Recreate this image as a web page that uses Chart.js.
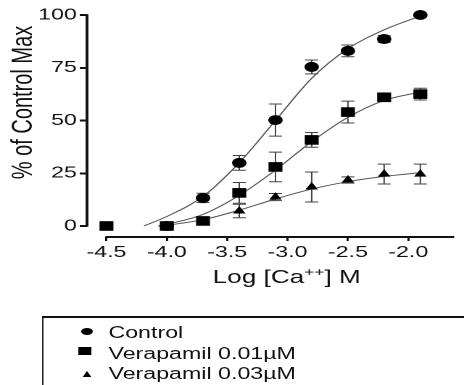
<!DOCTYPE html>
<html><head><meta charset="utf-8">
<script src="https://cdn.jsdelivr.net/npm/chart.js@4"></script>
<style>
html,body{margin:0;padding:0;background:#fff;overflow:hidden;width:464px;height:385px;}
#wrap{position:absolute;left:0;top:0;width:320px;height:385px;transform:scaleX(1.45);transform-origin:0 0;overflow:hidden;}
#box{position:absolute;left:0;top:0;width:320px;height:385px;}
#legend{position:absolute;left:29px;top:316px;width:400px;height:120px;border-top:2px solid #111;border-left:1.6px solid #111;}
.txt{position:absolute;left:44.8px;font:16px "Liberation Sans",Arial,sans-serif;line-height:16px;color:#111;white-space:nowrap;}
.mk{position:absolute;background:#000;}
</style></head><body>
<div id="wrap"><div id="box"><canvas id="c"></canvas></div><div id="legend"></div></div>
<script>
// ---- data ----
const xTicks = [-4.5, -4.0, -3.5, -3.0, -2.5, -2.0];
const yTicks = [0, 25, 50, 75, 100];
const seriesLabels = ['Control', 'Verapamil 0.01\u00b5M', 'Verapamil 0.03\u00b5M'];

const controlX   = [-4.0, -3.7, -3.4, -3.1, -2.8, -2.5, -2.2, -1.9];
const controlY   = [0, 13.3, 29.9, 50.2, 75.4, 83.0, 88.6, 100];
const controlErr = [0, 2.2, 3.5, 7.6, 3.3, 2.8, 1.6, 0.6];

const vera01X   = [-4.5, -4.0, -3.7, -3.4, -3.1, -2.8, -2.5, -2.2, -1.9];
const vera01Y   = [0, 0, 2.4, 15.7, 28.0, 40.8, 54.0, 61.0, 62.5];
const vera01Err = [0, 0, 1.8, 4.9, 7.0, 3.5, 5.2, 1.0, 2.8];

const vera03X   = [-4.0, -3.7, -3.4, -3.1, -2.8, -2.5, -2.2, -1.9];
const vera03Y   = [0, 1.5, 7.1, 13.7, 18.5, 21.8, 24.6, 24.6];
const vera03Err = [0, 1.0, 3.2, 1.7, 7.1, 1.5, 4.7, 4.7];

// fitted curves
const controlFitX = [-4.19, -4.0, -3.7, -3.4, -3.1, -2.8, -2.5, -2.2, -1.9];
const controlFitY = [0, 4.5, 14, 30, 50, 70, 84, 93, 99.5];
const vera01FitX  = [-4.07, -4.0, -3.7, -3.4, -3.1, -2.8, -2.5, -2.2, -1.9];
const vera01FitY  = [0, 0.8, 5.5, 14.5, 26.5, 40, 51.5, 59.5, 63.5];
const vera03FitX  = [-4.07, -4.0, -3.7, -3.4, -3.1, -2.8, -2.5, -2.2, -1.9];
const vera03FitY  = [0, 0.4, 3, 7.5, 12.8, 17.5, 21, 23.5, 25.3];

const FONT = '"Liberation Sans", Arial, sans-serif';
const pts = (xs, ys) => xs.map((x, i) => ({x: x, y: ys[i]}));

function fitDs(xs, ys) {
  return {type: 'line', data: pts(xs, ys), showLine: true, pointRadius: 0, borderColor: '#555',
    borderWidth: 1, tension: 0.4, cubicInterpolationMode: 'monotone', fill: false, order: 10, clip: false};
}
function markDs(label, xs, ys, errs, style, r, order) {
  return {label: label, data: pts(xs, ys), errors: errs, showLine: false, pointStyle: style,
    pointRadius: r, backgroundColor: '#000', borderColor: '#000', borderWidth: 0, order: order, clip: false};
}

const errorBars = {
  id: 'errorBars',
  beforeDatasetsDraw(chart) {
    const {ctx, scales: {y}} = chart;
    ctx.save(); ctx.strokeStyle = '#444'; ctx.lineWidth = 1;
    chart.data.datasets.forEach((ds, i) => {
      if (!ds.errors) return;
      const meta = chart.getDatasetMeta(i);
      meta.data.forEach((pt, j) => {
        const e = ds.errors[j]; if (!e) return;
        const v = ds.data[j].y;
        const yt = y.getPixelForValue(v + e), yb = y.getPixelForValue(v - e);
        ctx.beginPath();
        ctx.moveTo(pt.x, yt); ctx.lineTo(pt.x, yb);
        ctx.moveTo(pt.x - 4.5, yt); ctx.lineTo(pt.x + 4.5, yt);
        ctx.moveTo(pt.x - 4.5, yb); ctx.lineTo(pt.x + 4.5, yb);
        ctx.stroke();
      });
    });
    ctx.restore();
  }
};

const axesAndTitles = {
  id: 'axesAndTitles',
  afterDraw(chart) {
    const {ctx, chartArea: ca, scales: {x, y}} = chart;
    ctx.save();
    ctx.strokeStyle = '#111'; ctx.lineWidth = 2;
    ctx.beginPath();
    ctx.moveTo(ca.left, y.getPixelForValue(yTicks[yTicks.length - 1]) - 0.75);
    ctx.lineTo(ca.left, y.getPixelForValue(yTicks[0]) + 0.75);
    ctx.moveTo(x.getPixelForValue(xTicks[0]) - 0.75, ca.bottom);
    ctx.lineTo(ca.right, ca.bottom);
    ctx.stroke();
    ctx.fillStyle = '#111';
    // y title
    ctx.save();
    ctx.translate(15, ca.top + 87.5);
    ctx.rotate(-Math.PI / 2);
    ctx.font = '20px ' + FONT; ctx.textAlign = 'center'; ctx.textBaseline = 'alphabetic';
    ctx.fillText('% of Control Max', 0, 7);
    ctx.restore();
    // x title with superscript
    const base = 283, big = '18px ' + FONT, small = '12px ' + FONT;
    const parts = [['Log [Ca', big, 0], ['++', small, -7], ['] M', big, 0]];
    let w = 0;
    parts.forEach(p => { ctx.font = p[1]; w += ctx.measureText(p[0]).width; });
    let cx = ca.left + 137.7 - w / 2;
    ctx.textAlign = 'left'; ctx.textBaseline = 'alphabetic';
    parts.forEach(p => { ctx.font = p[1]; ctx.fillText(p[0], cx, base + p[2]); cx += ctx.measureText(p[0]).width; });
    ctx.restore();
  }
};

new Chart(document.getElementById('c'), {
  type: 'scatter',
  data: {datasets: [
    fitDs(controlFitX, controlFitY),
    fitDs(vera01FitX, vera01FitY),
    fitDs(vera03FitX, vera03FitY),
    markDs(seriesLabels[0], controlX, controlY, controlErr, 'circle', 5, 2),
    markDs(seriesLabels[1], vera01X, vera01Y, vera01Err, 'rect', 6.8, 1),
    markDs(seriesLabels[2], vera03X, vera03Y, vera03Err, 'triangle', 5, 3)
  ]},
  options: {
    responsive: true, maintainAspectRatio: false, animation: false, devicePixelRatio: 2,
    layout: {padding: {top: 15, left: 0, right: 0, bottom: 98}},
    plugins: {legend: {display: false}, tooltip: {enabled: false}},
    scales: {
      x: {type: 'linear', min: -4.661, max: -1.62,
        afterBuildTicks: s => { s.ticks = xTicks.map(v => ({value: v})); },
        afterFit: s => { s.height = 50; },
        border: {display: false},
        grid: {drawOnChartArea: false, drawTicks: true, tickLength: 4, color: '#111', lineWidth: 1.5},
        ticks: {padding: 2, color: '#111', font: {family: FONT, size: 16}, maxRotation: 0, autoSkip: false,
          callback: v => v.toFixed(1)}},
      y: {type: 'linear', min: -5.21, max: 100,
        afterBuildTicks: s => { s.ticks = yTicks.map(v => ({value: v})); },
        afterFit: s => { s.width = 60; },
        border: {display: false},
        grid: {drawOnChartArea: false, drawTicks: true, tickLength: 5, color: '#111', lineWidth: 2},
        ticks: {padding: 2, color: '#111', font: {family: FONT, size: 16}, callback: v => String(v)}}
    }
  },
  plugins: [errorBars, axesAndTitles]
});

// legend (HTML, text from seriesLabels)
const lg = document.getElementById('legend');
const tops = [7.2, 27.5, 48];
seriesLabels.forEach((t, i) => {
  const d = document.createElement('div'); d.className = 'txt'; d.style.top = tops[i] + 'px'; d.textContent = t; lg.appendChild(d);
});
const m1 = document.createElement('div'); m1.className = 'mk';
Object.assign(m1.style, {left: '25.6px', top: '10px', width: '8px', height: '6.5px', borderRadius: '50%'}); lg.appendChild(m1);
const m2 = document.createElement('div'); m2.className = 'mk';
Object.assign(m2.style, {left: '23.7px', top: '29.3px', width: '9px', height: '8px'}); lg.appendChild(m2);
const m3 = document.createElement('div');
Object.assign(m3.style, {position: 'absolute', left: '26.8px', top: '53px', width: '0', height: '0',
  borderLeft: '3.6px solid transparent', borderRight: '3.6px solid transparent', borderBottom: '6.5px solid #000'}); lg.appendChild(m3);
</script>
</body></html>
